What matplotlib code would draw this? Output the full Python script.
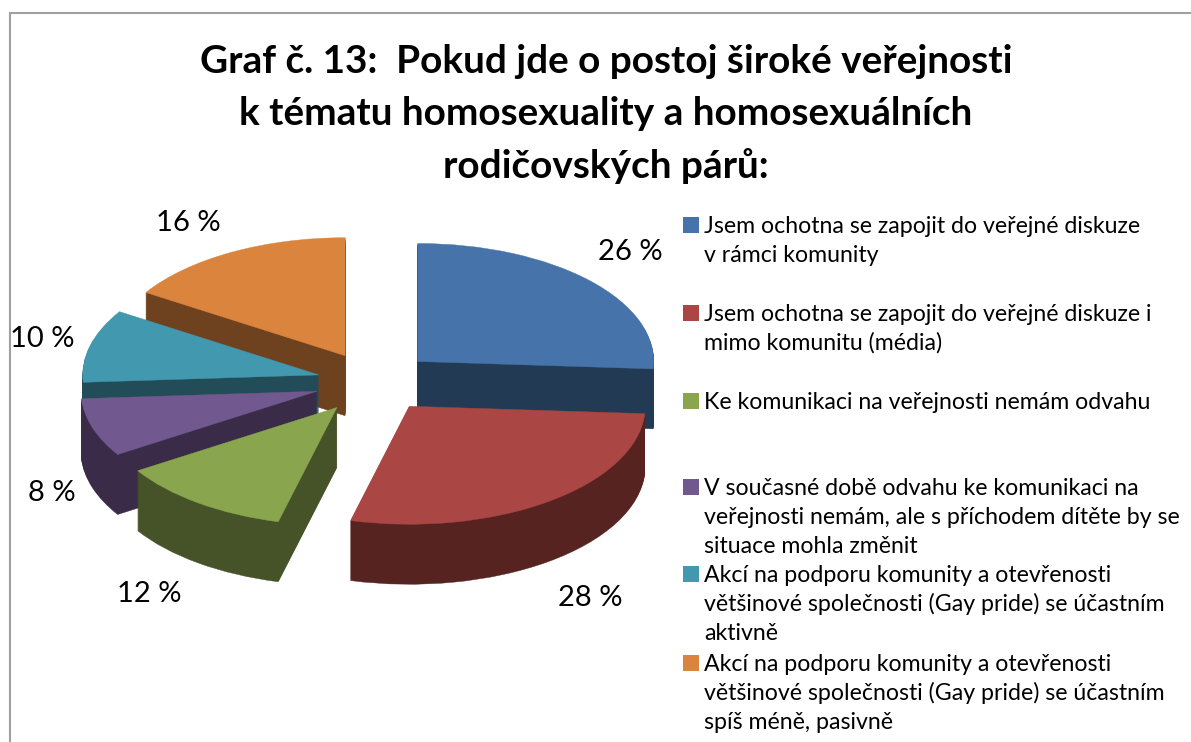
import matplotlib
matplotlib.use("Agg")
import matplotlib.pyplot as plt
from matplotlib.patches import Rectangle

W, H = 1191, 742
plt.rcParams['font.family'] = ['Lato', 'DejaVu Sans']

values = [26, 28, 12, 8, 10, 16]
top_colors = ['#4674AA', '#AA4644', '#89A54E', '#71588F', '#4298AF', '#DB843D']
side_colors = ['#233A55', '#572321', '#465227', '#3A2C49', '#214C58', '#6F421F']
draw_rank = [0, 5, 4, 3, 2, 1]
explode_px = [60, 60, 63, 60, 57, 60]
value_label_xy = [(630, 252), (590, 598), (149, 594), (52, 493), (42, 339), (188, 223)]
title_lines = ['Graf č. 13:  Pokud jde o postoj široké veřejnosti',
               'k tématu homosexuality a homosexuálních',
               'rodičovských párů:']
title_baselines = [73, 125, 178]
legend_labels = [
    ['Jsem ochotna se zapojit do veřejné diskuze', 'v rámci komunity'],
    ['Jsem ochotna se zapojit do veřejné diskuze i', 'mimo komunitu (média)'],
    ['Ke komunikaci na veřejnosti nemám odvahu'],
    ['V současné době odvahu ke komunikaci na', 'veřejnosti nemám, ale s příchodem dítěte by se', 'situace mohla změnit'],
    ['Akcí na podporu komunity a otevřenosti', 'většinové společnosti (Gay pride) se účastním', 'aktivně'],
    ['Akcí na podporu komunity a otevřenosti', 'většinové společnosti (Gay pride) se účastním', 'spíš méně, pasivně'],
]
legend_baselines = [233, 321, 409, 495, 582, 671]

fig = plt.figure(figsize=(W / 100, H / 100), dpi=100, facecolor='white')
ax = fig.add_axes([0, 0, 1, 1])

SQ = 2.0          # data units in y per pixel: flattens the pie to an ellipse
def Y(py):
    return (H - py) * SQ

CX, CY, R, DEPTH = 374, 382, 236, 60

for layer in range(DEPTH, -1, -1):
    cols = top_colors if layer == 0 else side_colors
    wedges, _ = ax.pie(values, colors=cols, startangle=90, counterclock=False,
                       radius=R, center=(CX, Y(CY + layer)), explode=explode_px,
                       normalize=True, frame=False)
    for w, rank in zip(wedges, draw_rank):
        w.set_zorder(rank * 1000 + (DEPTH - layer) + 1)
        w.set_edgecolor(w.get_facecolor())
        w.set_linewidth(0.3)

ax.set_aspect('auto')
ax.set_xlim(0, W)
ax.set_ylim(0, H * SQ)
ax.axis('off')

# chart frame (only top and left are visible in the crop)
ax.plot([9.5, 9.5, W], [0, Y(12.5), Y(12.5)], color='#A0A0A0', lw=1.5, zorder=0.5,
        solid_joinstyle='miter', clip_on=False)

for line, b in zip(title_lines, title_baselines):
    ax.text(606, Y(b), line, ha='center', va='baseline', fontsize=27.9, fontweight='bold',
            color='black', zorder=20000)

for v, (x, y) in zip(values, value_label_xy):
    ax.text(x, Y(y), f'{v} %', ha='center', va='center', fontsize=21, color='black', zorder=20000)

for lines, b, c in zip(legend_labels, legend_baselines, top_colors):
    ax.add_patch(Rectangle((683, Y(b)), 16, 16 * SQ, facecolor=c, edgecolor='none', zorder=20000))
    for i, line in enumerate(lines):
        ax.text(704, Y(b + 29 * i), line, ha='left', va='baseline', fontsize=16.65,
                color='black', zorder=20000)

fig.savefig('out.png', dpi=100)
